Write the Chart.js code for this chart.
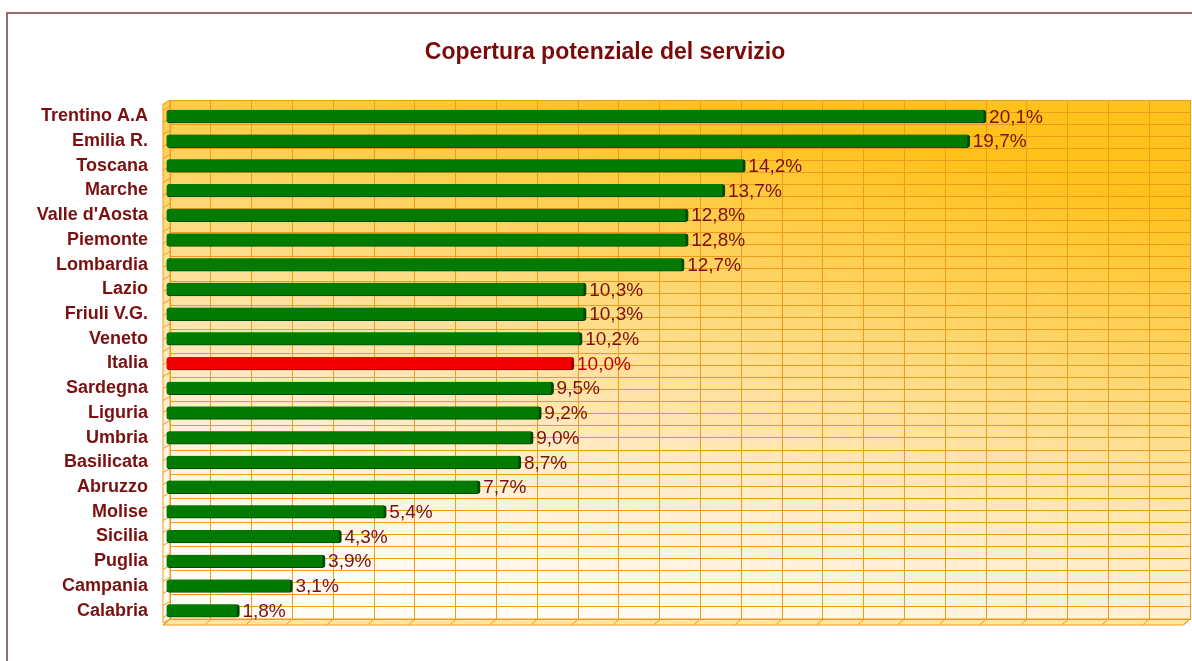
<!DOCTYPE html>
<html><head><meta charset="utf-8">
<script src="https://cdn.jsdelivr.net/npm/chart.js@4.4.0/dist/chart.umd.min.js"></script>
<style>
html,body{margin:0;padding:0;background:#fff;overflow:hidden}
#wrap{position:relative;width:1192px;height:661px}
#frame{position:absolute;left:6px;top:12px;width:1300px;height:800px;border-left:2px solid #9c6a6a;border-top:2px solid #9c6a6a;pointer-events:none}
</style></head><body>
<div id="wrap"><canvas id="c" width="1192" height="661"></canvas><div id="frame"></div></div>
<script>
const title = 'Copertura potenziale del servizio';
const categories = ['Trentino A.A','Emilia R.','Toscana','Marche',"Valle d'Aosta",'Piemonte','Lombardia','Lazio','Friuli V.G.','Veneto','Italia','Sardegna','Liguria','Umbria','Basilicata','Abruzzo','Molise','Sicilia','Puglia','Campania','Calabria'];
const values = [20.1,19.7,14.2,13.7,12.8,12.8,12.7,10.3,10.3,10.2,10.0,9.5,9.2,9.0,8.7,7.7,5.4,4.3,3.9,3.1,1.8];
const highlightCategory = 'Italia';
const axisMin = 0, axisMax = 25, axisStep = 1;

const FONT = "'Liberation Sans', Arial, sans-serif";
const TXT = '#7a1010';
const GRID = '#ee9c1c';
const DX = -7, DY = 4;      // depth of the 3D walls
const BDX = -4;             // bar offset toward the front plane

const fill = categories.map(c => c === highlightCategory ? '#f20000' : '#007a00');
const edge = categories.map(c => c === highlightCategory ? '#a00000' : '#004a00');

function gradFor(ctx, a){
  const g = ctx.createLinearGradient(a.left + (a.right-a.left)*0.50, a.top, a.left + (a.right-a.left)*0.40, a.bottom);
  g.addColorStop(0, '#ffc21a');
  g.addColorStop(0.25, '#ffd055');
  g.addColorStop(0.5, '#ffe099');
  g.addColorStop(0.75, '#ffeed0');
  g.addColorStop(1, '#fffcf6');
  return g;
}

const decor = {
  id: 'decor',
  beforeDraw(chart){
    const {ctx, chartArea:a} = chart;
    ctx.save();
    ctx.fillStyle = gradFor(ctx, a);
    ctx.fillRect(a.left, a.top, a.right-a.left, a.bottom-a.top);
    // left wall
    ctx.beginPath();
    ctx.moveTo(a.left+DX, a.top-DY+8);
    ctx.lineTo(a.left, a.top);
    ctx.lineTo(a.left, a.bottom);
    ctx.lineTo(a.left+DX, a.bottom+DY);
    ctx.closePath();
    ctx.fill();
    ctx.strokeStyle = GRID; ctx.lineWidth = 1; ctx.stroke();
    // floor
    ctx.beginPath();
    ctx.moveTo(a.left, a.bottom);
    ctx.lineTo(a.right, a.bottom);
    ctx.lineTo(a.right+DX, a.bottom+DY+2);
    ctx.lineTo(a.left+DX, a.bottom+DY+2);
    ctx.closePath();
    ctx.fillStyle = '#ffe3a8';
    ctx.fill();
    ctx.strokeStyle = GRID; ctx.stroke();
    const y2 = chart.scales.y2;
    ctx.beginPath();
    y2.ticks.forEach(t => {
      const py = Math.round(y2.getPixelForValue(t.value)) + 0.5;
      ctx.moveTo(a.left, py); ctx.lineTo(a.left+DX, py+DY);
    });
    const xs = chart.scales.x;
    xs.ticks.forEach(t => {
      const px = Math.round(xs.getPixelForValue(t.value)) + 0.5;
      ctx.moveTo(px, a.bottom); ctx.lineTo(px+DX, a.bottom+DY+2);
    });
    ctx.stroke();
    ctx.restore();
  },
  beforeDatasetsDraw(chart){
    chart.ctx.save();
    chart.ctx.translate(BDX, DY);
  },
  afterDatasetsDraw(chart){
    const ctx = chart.ctx;
    ctx.restore();
    const meta = chart.getDatasetMeta(0);
    ctx.save();
    ctx.font = '19px ' + FONT;
    ctx.textBaseline = 'middle';
    ctx.textAlign = 'left';
    meta.data.forEach((el, i) => {
      ctx.fillStyle = categories[i] === highlightCategory ? '#c00000' : TXT;
      const txt = values[i].toFixed(1).replace('.', ',') + '%';
      ctx.fillText(txt, el.x + BDX + 3, el.y + DY + 1);
    });
    ctx.restore();
  }
};

new Chart(document.getElementById('c'), {
  type: 'bar',
  data: {
    labels: categories,
    datasets: [{
      data: values,
      backgroundColor: fill,
      borderColor: edge,
      borderWidth: {top:0, right:3, bottom:1, left:0},
      borderSkipped: false,
      borderRadius: 3,
      barThickness: 13,
      clip: false
    }]
  },
  options: {
    indexAxis: 'y',
    responsive: false,
    animation: false,
    devicePixelRatio: 1,
    layout: { padding: { left: 20, right: 2, top: 0, bottom: 42 } },
    plugins: {
      legend: { display: false },
      tooltip: { enabled: false },
      title: {
        display: true, text: title, color: '#7b0b0b',
        font: { family: FONT, size: 23, weight: 'bold', lineHeight: 1.2 },
        padding: { top: 39, bottom: 33.4 }
      }
    },
    scales: {
      x: {
        min: axisMin, max: axisMax,
        ticks: { display: false, stepSize: axisStep },
        grid: { color: GRID, drawTicks: false, lineWidth: 1 },
        border: { color: GRID }
      },
      y: {
        type: 'category',
        grid: { display: false, drawTicks: false },
        border: { display: false },
        ticks: { color: TXT, padding: 22, labelOffset: DY, font: { family: FONT, size: 18, weight: 'bold' } },
        afterFit(s){ s.width = 150; }
      },
      y2: {
        type: 'linear', position: 'right',
        min: -0.5, max: categories.length - 0.5,
        ticks: { display: false, stepSize: 0.5, maxTicksLimit: 100 },
        grid: { color: GRID, drawTicks: false, lineWidth: 1 },
        border: { color: GRID },
        afterFit(s){ s.width = 0; }
      }
    }
  },
  plugins: [decor]
});
</script>
</body></html>
